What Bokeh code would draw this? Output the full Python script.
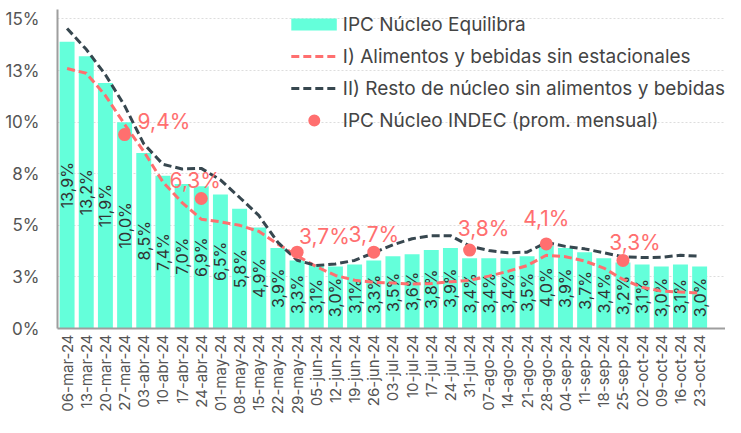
import math
from bokeh.plotting import figure
from bokeh.models import ColumnDataSource, Range1d, FixedTicker, Legend, LegendItem
from bokeh.core.properties import value
from bokeh.embed import file_html
from bokeh.resources import INLINE

# ---------------- data ----------------
dates = ["06-mar-24", "13-mar-24", "20-mar-24", "27-mar-24", "03-abr-24", "10-abr-24",
         "17-abr-24", "24-abr-24", "01-may-24", "08-may-24", "15-may-24", "22-may-24",
         "29-may-24", "05-jun-24", "12-jun-24", "19-jun-24", "26-jun-24", "03-jul-24",
         "10-jul-24", "17-jul-24", "24-jul-24", "31-jul-24", "07-ago-24", "14-ago-24",
         "21-ago-24", "28-ago-24", "04-sep-24", "11-sep-24", "18-sep-24", "25-sep-24",
         "02-oct-24", "09-oct-24", "16-oct-24", "23-oct-24"]

ipc_nucleo_equilibra = [13.9, 13.2, 11.9, 10.0, 8.5, 7.4, 7.0, 6.9, 6.5, 5.8, 4.9, 3.9,
                        3.3, 3.1, 3.0, 3.1, 3.3, 3.5, 3.6, 3.8, 3.9, 3.4, 3.4, 3.4,
                        3.5, 4.0, 3.9, 3.7, 3.4, 3.2, 3.1, 3.0, 3.1, 3.0]

alimentos_bebidas = [12.6, 12.37, 11.29, 9.9, 8.58, 7.1, 6.1, 5.3, 5.17, 5.0, 4.71, 4.09,
                     3.52, 3.0, 2.57, 2.34, 2.24, 2.21, 2.15, 2.18, 2.26, 2.33, 2.54, 2.77,
                     3.05, 3.55, 3.48, 3.27, 2.93, 2.38, 2.0, 1.81, 1.77, 1.72]

resto_nucleo = [14.54, 13.53, 12.3, 10.8, 8.95, 7.96, 7.73, 7.76, 7.2, 6.35, 5.48, 4.17,
                3.31, 3.05, 3.13, 3.3, 3.67, 4.06, 4.35, 4.5, 4.5, 4.0, 3.78, 3.67,
                3.7, 4.17, 3.98, 3.86, 3.67, 3.47, 3.44, 3.45, 3.55, 3.5]

indec_dates = ["27-mar-24", "24-abr-24", "29-may-24", "26-jun-24", "31-jul-24",
               "28-ago-24", "25-sep-24"]
indec_values = [9.4, 6.3, 3.7, 3.7, 3.8, 4.1, 3.3]

y_ticks = [0, 2.5, 5, 7.5, 10, 12.5, 15]
y_tick_labels = ["0%", "3%", "5%", "8%", "10%", "13%", "15%"]

legend_labels = ["IPC Núcleo Equilibra",
                 "I) Alimentos y bebidas sin estacionales",
                 "II) Resto de núcleo sin alimentos y bebidas",
                 "IPC Núcleo INDEC (prom. mensual)"]

# ---------------- styles ----------------
FONT = "Inter"
C_BAR = "#64FFDA"
C_RED = "#FF6F6F"
C_DARK = "#37474F"
C_AXIS_TXT = "#555555"

# per-point label placement for the INDEC dots (pixels)
indec_lbl_dx = [13, -6, 2, 0, 14, 0, 12]
indec_lbl_dy = [-13, -18, -16, -18, -22, -25, -18]
indec_lbl_align = ["left", "center", "left", "center", "center", "center", "center"]


def fmt(v):
    return f"{v:.1f}%".replace(".", ",")


xs = list(range(len(dates)))
src = ColumnDataSource(dict(
    x=xs,
    bar=ipc_nucleo_equilibra,
    mid=[v / 2 for v in ipc_nucleo_equilibra],
    lbl=[fmt(v) for v in ipc_nucleo_equilibra],
    food=alimentos_bebidas,
    rest=resto_nucleo,
))

ix = [dates.index(d) for d in indec_dates]
src_dot = ColumnDataSource(dict(
    x=ix, y=indec_values, lbl=[fmt(v) for v in indec_values],
    dx=indec_lbl_dx, dy=indec_lbl_dy, al=indec_lbl_align,
))

p = figure(width=725, height=417, output_backend="svg", toolbar_location=None,
           x_range=Range1d(-0.5, 34.35), y_range=Range1d(0, 15.46),
           min_border_left=57, min_border_right=0, min_border_top=9, min_border_bottom=0)
p.outline_line_color = None
p.background_fill_color = "white"
p.border_fill_color = "white"

bars = p.vbar(x="x", top="bar", width=0.78, source=src, fill_color=C_BAR, line_color=None)
p.text(x="x", y="mid", text="lbl", source=src, angle=math.pi / 2,
       text_align="center", text_baseline="middle",
       text_font=value(FONT), text_font_size="16px", text_color="#333333")

red = p.line(x="x", y="food", source=src, line_color=C_RED, line_width=3, line_dash="8 4")
dark = p.line(x="x", y="rest", source=src, line_color=C_DARK, line_width=3, line_dash="8 4")

dots = p.scatter(x="x", y="y", source=src_dot, size=13, fill_color=C_RED, line_color=None)
p.text(x="x", y="y", text="lbl", source=src_dot, x_offset="dx", y_offset="dy",
       text_align="al", text_baseline="middle",
       text_font=value(FONT), text_font_size="21px", text_color=C_RED)

# legend swatch for the bars: a hidden thick line (shows as a 46x12 block in the legend)
bar_swatch = p.line(x="x", y="bar", source=src, line_color=C_BAR, line_width=12,
                    line_cap="butt", visible=False)

# axes
p.yaxis.ticker = FixedTicker(ticks=y_ticks)
p.yaxis.major_label_overrides = dict(zip(y_ticks, y_tick_labels))
p.xaxis.ticker = FixedTicker(ticks=xs)
p.xaxis.major_label_overrides = dict(zip(xs, dates))
p.xaxis.major_label_orientation = math.pi / 2
for ax in (p.xaxis, p.yaxis):
    ax.major_tick_line_color = None
    ax.minor_tick_line_color = None
    ax.major_tick_out = 0
    ax.major_tick_in = 0
    ax.minor_tick_out = 0
    ax.minor_tick_in = 0
    ax.axis_line_color = "#9E9E9E"
    ax.axis_line_width = 2
    ax.major_label_text_font = FONT
    ax.major_label_text_color = C_AXIS_TXT
p.yaxis.major_label_text_font_size = "17px"
p.yaxis.major_label_standoff = 18
p.xaxis.major_label_text_font_size = "15px"
p.xaxis.major_label_standoff = 6

p.xgrid.grid_line_color = None
p.ygrid.grid_line_color = "#DDDDDD"
p.ygrid.grid_line_dash = "2 2"
p.ygrid.grid_line_width = 1

legend = Legend(items=[
    LegendItem(label=legend_labels[0], renderers=[bar_swatch]),
    LegendItem(label=legend_labels[1], renderers=[red]),
    LegendItem(label=legend_labels[2], renderers=[dark]),
    LegendItem(label=legend_labels[3], renderers=[dots]),
], location="top_right")
legend.label_text_font = FONT
legend.label_text_font_size = "19px"
legend.label_text_color = "#444444"
legend.glyph_width = 46
legend.glyph_height = 30
legend.label_standoff = 6
legend.spacing = 2
legend.label_height = 28
legend.padding = 0
legend.margin = 0
legend.background_fill_alpha = 0
legend.border_line_alpha = 0
legend.inactive_fill_alpha = 0
p.add_layout(legend)

open("out.html", "w").write(file_html(p, INLINE))
